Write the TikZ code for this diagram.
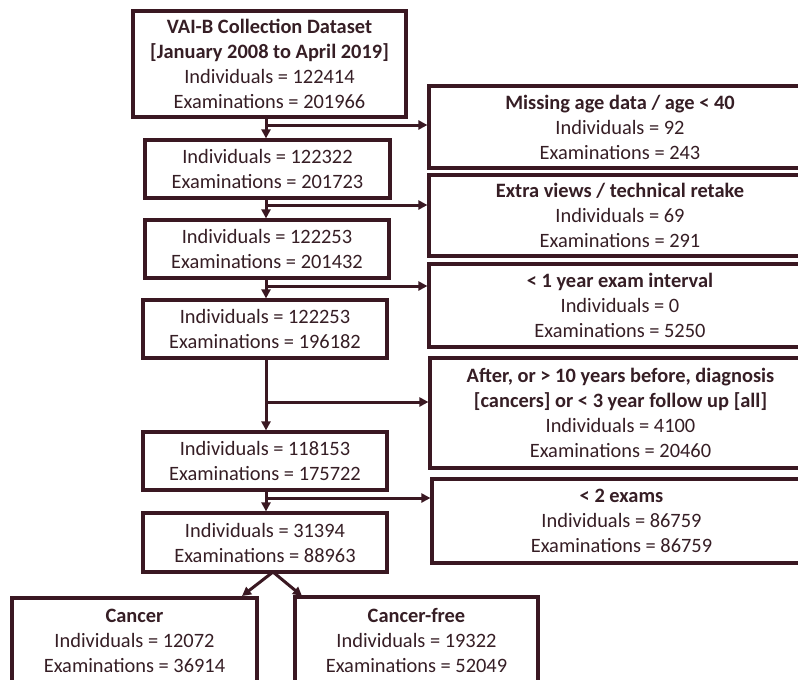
\documentclass[tikz,border=0pt]{standalone}
\usepackage{fontspec}
\setmainfont{Carlito}
\usetikzlibrary{arrows.meta}
\definecolor{maroon}{HTML}{3A1822}
\definecolor{txt}{HTML}{361E25}
\begin{document}
\begin{tikzpicture}[x=1pt,y=-1pt,
  box/.style={draw=maroon, line width=3.2pt, fill=white, text=txt, align=center, inner sep=0pt, font=\fontsize{20.4}{25}\selectfont},
  arr/.style={draw=maroon, line width=3pt, -{Triangle[length=9pt,width=9pt]}}]
\useasboundingbox (0,0) rectangle (798,680);
\fill[white] (0,0) rectangle (798,680);
\clip (0,0) rectangle (798,680);
% main column
\node[box, minimum width=273pt, minimum height=106pt] (b1) at (269.5,64) {\textbf{VAI-B Collection Dataset}\\\textbf{[January 2008 to April 2019]}\\Individuals = 122414\\Examinations = 201966};
\node[box, minimum width=245pt, minimum height=58pt] (b2) at (267.5,169) {Individuals = 122322\\Examinations = 201723};
\node[box, minimum width=244pt, minimum height=58pt] (b3) at (267,249) {Individuals = 122253\\Examinations = 201432};
\node[box, minimum width=244pt, minimum height=58pt] (b4) at (265,329) {Individuals = 122253\\Examinations = 196182};
\node[box, minimum width=244pt, minimum height=58pt] (b5) at (265,461) {Individuals = 118153\\Examinations = 175722};
\node[box, minimum width=244pt, minimum height=59pt] (b6) at (265,542.5) {Individuals = 31394\\Examinations = 88963};
% right column
\node[box, minimum width=382pt, minimum height=82pt] (r1) at (620,127) {\textbf{Missing age data / age < 40}\\Individuals = 92\\Examinations = 243};
\node[box, minimum width=382pt, minimum height=81pt] (r2) at (620,215.5) {\textbf{Extra views / technical retake}\\Individuals = 69\\Examinations = 291};
\node[box, minimum width=382pt, minimum height=83pt] (r3) at (620,305.5) {\textbf{< 1 year exam interval}\\Individuals = 0\\Examinations = 5250};
\node[box, minimum width=381pt, minimum height=110pt] (r4) at (620.5,413) {\textbf{After, or > 10 years before, diagnosis}\\\textbf{[cancers] or < 3 year follow up [all]}\\Individuals = 4100\\Examinations = 20460};
\node[box, minimum width=379pt, minimum height=84pt] (r5) at (621.5,521) {\textbf{< 2 exams}\\Individuals = 86759\\Examinations = 86759};
% bottom
\node[box, minimum width=245pt, minimum height=86pt] (c1) at (134.5,641) {\textbf{Cancer}\\Individuals = 12072\\Examinations = 36914};
\node[box, minimum width=243pt, minimum height=87pt] (c2) at (416.5,640.5) {\textbf{Cancer-free}\\Individuals = 19322\\Examinations = 52049};
% connectors
\coordinate (spine) at (266,0);
\coordinate (j1) at (266,125);
\coordinate (j2) at (266,205);
\coordinate (j3) at (266,286);
\coordinate (j4) at (266,402);
\coordinate (j5) at (266,498);
\draw[arr] (b1.south -| spine) -- (b2.north -| spine);
\draw[arr] (b2.south -| spine) -- (b3.north -| spine);
\draw[arr] (b3.south -| spine) -- (b4.north -| spine);
\draw[arr] (b4.south -| spine) -- (b5.north -| spine);
\draw[arr] (b5.south -| spine) -- (b6.north -| spine);
\draw[arr] (j1) -- (j1 -| r1.west);
\draw[arr] (j2) -- (j2 -| r2.west);
\draw[arr] (j3) -- (j3 -| r3.west);
\draw[arr] (j4) -- (j4 -| r4.west);
\draw[arr] (j5) -- (j5 -| r5.west);
\coordinate (apex) at (273,572);
\coordinate (t1) at (242,596);
\coordinate (t2) at (302,596);
\draw[arr] (apex) -- (t1);
\draw[arr] (apex) -- (t2);
\end{tikzpicture}
\end{document}
